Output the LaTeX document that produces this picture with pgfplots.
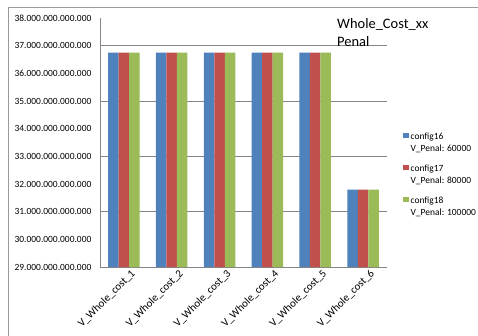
\documentclass[border=0pt]{standalone}
\usepackage{fontspec}
\setmainfont{Carlito}
\usepackage{pgfplots}
\pgfplotsset{compat=1.18}
\definecolor{barblue}{HTML}{4F81BD}
\definecolor{barred}{HTML}{C0504D}
\definecolor{bargreen}{HTML}{9BBB59}
\definecolor{axisgray}{HTML}{868686}
\definecolor{framegray}{HTML}{9A9A9A}
\begin{document}
\begin{tikzpicture}
\useasboundingbox (0bp,0bp) rectangle (478bp,-336bp);
\fill[white] (0bp,0bp) rectangle (478bp,-336bp);
% chart frame (left and top edges visible)
\draw[framegray, line width=0.8bp] (8.5bp,-340bp) -- (8.5bp,-7.5bp) -- (482bp,-7.5bp);
\begin{axis}[
  at={(100bp,-267bp)}, anchor=south west,
  scale only axis, width=287bp, height=249bp,
  ybar=0pt, bar width=10.5bp,
  xmin=-0.5, xmax=5.5,
  ymin=29000000000000, ymax=38000000000000,
  axis x line=bottom, axis y line=left,
  axis line style={-, draw=axisgray, line width=0.8bp},
  xtick={0,1,2,3,4,5},
  xticklabels={V\_Whole\_cost\_1,V\_Whole\_cost\_2,V\_Whole\_cost\_3,V\_Whole\_cost\_4,V\_Whole\_cost\_5,V\_Whole\_cost\_6},
  xtick style={draw=none},
  extra x ticks={-0.5,0.5,1.5,2.5,3.5,4.5,5.5},
  extra x tick labels={},
  extra x tick style={tick align=outside, major tick length=4bp, tick style={draw=axisgray, line width=0.8bp}},
  xticklabel style={rotate=45, anchor=north east, font=\fontsize{11}{13}\selectfont, inner sep=1bp, xshift=6bp, yshift=-3bp},
  ytick={29000000000000,30000000000000,31000000000000,32000000000000,33000000000000,34000000000000,35000000000000,36000000000000,37000000000000,38000000000000},
  ytick style={draw=none},
  scaled y ticks=false,
  yticklabel style={/pgf/number format/fixed, /pgf/number format/precision=0, /pgf/number format/1000 sep={.}, /pgf/number format/assume math mode=true},
  yticklabel style={font=\fontsize{9.5}{11}\selectfont, xshift=-3bp},
  extra y ticks={31000000000000,33000000000000,35000000000000,37000000000000},
  extra y tick labels={},
  extra y tick style={grid=major, tick align=outside, major tick length=4bp, tick style={draw=axisgray, line width=0.8bp}},
  major grid style={draw=axisgray, line width=0.8bp},
  legend style={at={(1.045,0.555)}, anchor=north west, draw=none, fill=none,
    font=\fontsize{9.5}{12}\selectfont, cells={align=left}, row sep=8bp,
    legend cell align=left},
  legend image code/.code={\draw[#1, draw=none] (0bp,4.5bp) rectangle (5.5bp,10bp);},
]
\addplot[fill=barblue, draw=none] coordinates {(0,36750000000000) (1,36750000000000) (2,36750000000000) (3,36750000000000) (4,36750000000000) (5,31800000000000)};
\addplot[fill=barred, draw=none] coordinates {(0,36750000000000) (1,36750000000000) (2,36750000000000) (3,36750000000000) (4,36750000000000) (5,31800000000000)};
\addplot[fill=bargreen, draw=none] coordinates {(0,36750000000000) (1,36750000000000) (2,36750000000000) (3,36750000000000) (4,36750000000000) (5,31800000000000)};
\legend{{config16\\V\_Penal: 60000},{config17\\V\_Penal: 80000},{config18\\V\_Penal: 100000}}
\end{axis}
\node[anchor=north west, align=left, inner sep=0pt, font=\fontsize{14.5}{18}\selectfont] at (337bp,-18bp) {Whole\_Cost\_xx\\Penal};
\end{tikzpicture}
\end{document}
